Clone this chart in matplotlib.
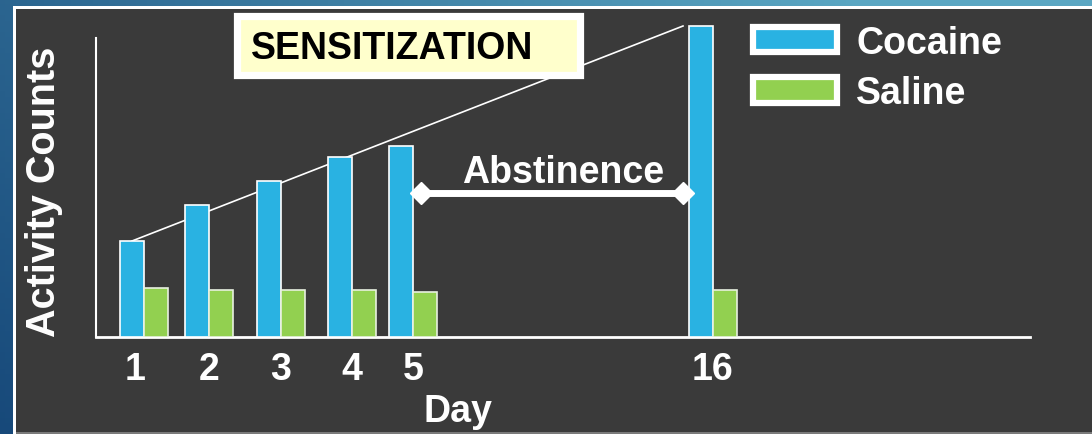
import numpy as np
import matplotlib.pyplot as plt
from matplotlib.patches import Rectangle, Patch
from matplotlib.colors import to_rgb
from matplotlib.transforms import ScaledTranslation

# activity counts per test day (arbitrary units)
days = ["1", "2", "3", "4", "5", "16"]
cocaine = [96, 132, 156, 180, 191, 311]
saline = [49, 47, 47, 47, 45, 47]

plt.rcParams["font.family"] = ["Liberation Sans", "DejaVu Sans"]
plt.rcParams["font.weight"] = "bold"

W, H = 1092, 435
fig = plt.figure(figsize=(W / 100, H / 100), dpi=100)

# ---------------------------------------------------------
# Slide background: blue frame, white rule, dark panel
# ---------------------------------------------------------
bg = fig.add_axes([0, 0, 1, 1], zorder=0)
bg.set_xlim(0, W)
bg.set_ylim(H, 0)
bg.axis("off")

c_left = np.array(to_rgb("#17497a"))
c_top = np.array(to_rgb("#5aa6c2"))
gx = np.linspace(0, 1, 200)[None, :]
gy = np.linspace(0, 1, 80)[:, None]
mix = np.clip(gx * 0.9 + (1 - gy) * 0.3, 0, 1)[..., None]
grad = c_left * (1 - mix) + c_top * mix
bg.imshow(grad, extent=[0, W, H, 0], aspect="auto", zorder=0)
bg.add_patch(Rectangle((13, 7), W, H, facecolor="white", edgecolor="none", zorder=1))
bg.add_patch(Rectangle((16, 10), W, 423, facecolor="#3a3a3a", edgecolor="none", zorder=2))
bg.add_patch(Rectangle((16, 433), W, 2, facecolor="#7a7a7a", edgecolor="none", zorder=2))

# ---------------------------------------------------------
# Bar chart
# ---------------------------------------------------------
ax = fig.add_axes([96 / W, 1 - 338 / H, 934 / W, 330 / H], zorder=1)
ax.set_facecolor("none")
ax.set_xlim(0, 934)
ax.set_ylim(0, 330)

group_x = np.array([48, 113, 185, 256, 317, 617])
bw = 24

ax.bar(group_x - bw / 2, cocaine, bw, color="#29b2e2", edgecolor="white",
       linewidth=1.2, label="Cocaine", zorder=3)
ax.bar(group_x + bw / 2, saline, bw, color="#92d050", edgecolor="#e8f0e0",
       linewidth=1.2, label="Saline", zorder=3)

for side in ["top", "right"]:
    ax.spines[side].set_visible(False)
ax.spines["left"].set_color("white")
ax.spines["left"].set_linewidth(1.5)
ax.spines["left"].set_bounds(0, 299)
ax.spines["bottom"].set_color("white")
ax.spines["bottom"].set_linewidth(2)

ax.set_xticks(group_x)
ax.set_xticklabels(days)
ax.set_yticks([])
ax.tick_params(axis="x", length=0, pad=10, labelsize=27, labelcolor="white")
# day 1 label sits a little left of its group
lbl = ax.get_xticklabels()[0]
lbl.set_transform(lbl.get_transform() + ScaledTranslation(-0.09, 0, fig.dpi_scale_trans))

ax.set_ylabel("Activity Counts", fontsize=28.5, color="white", fontweight="bold")
ax.yaxis.set_label_coords(-0.035, 0.444)
ax.set_xlabel("Day", fontsize=27, color="white", fontweight="bold")
ax.xaxis.set_label_coords(0.3876, -0.17)

# sensitization trend across the cocaine bars
ax.plot([group_x[0] - bw / 2, group_x[-1] - bw - 6], [cocaine[0], cocaine[-1]],
        color="white", linewidth=1.2, clip_on=False, zorder=2)

# SENSITIZATION label box
ax.add_patch(Rectangle((140.5, 262), 343, 59, facecolor="#ffffcc", edgecolor="white",
                       linewidth=5.2, clip_on=False, zorder=4))
ax.text(155, 289, "SENSITIZATION", fontsize=27, fontweight="bold", color="black",
        ha="left", va="center", zorder=5)

# abstinence period between day 5 and day 16
x0 = group_x[4] + bw / 2 - 4
x1 = group_x[5] - bw - 6
ax.plot([x0, x1], [144, 144], color="white", linewidth=5, marker="D",
        markersize=11, markeredgecolor="white", clip_on=False, zorder=4)
ax.text((x0 + x1) / 2 + 11, 155, "Abstinence", fontsize=27, fontweight="bold",
        color="white", ha="center", va="baseline", zorder=5)

handles = [Patch(facecolor="#29b2e2", edgecolor="white", linewidth=4.5, label="Cocaine"),
           Patch(facecolor="#92d050", edgecolor="white", linewidth=4.5, label="Saline")]
leg = ax.legend(handles=handles, loc="upper left", frameon=False,
                bbox_to_anchor=(753 / W, 1 - 26 / H), bbox_transform=fig.transFigure,
                fontsize=27, handlelength=2.25, handleheight=0.66, handletextpad=0.5,
                labelspacing=0.38, borderpad=0, borderaxespad=0)
for t in leg.get_texts():
    t.set_color("white")
    t.set_fontweight("bold")

fig.savefig("out.png", dpi=100)
